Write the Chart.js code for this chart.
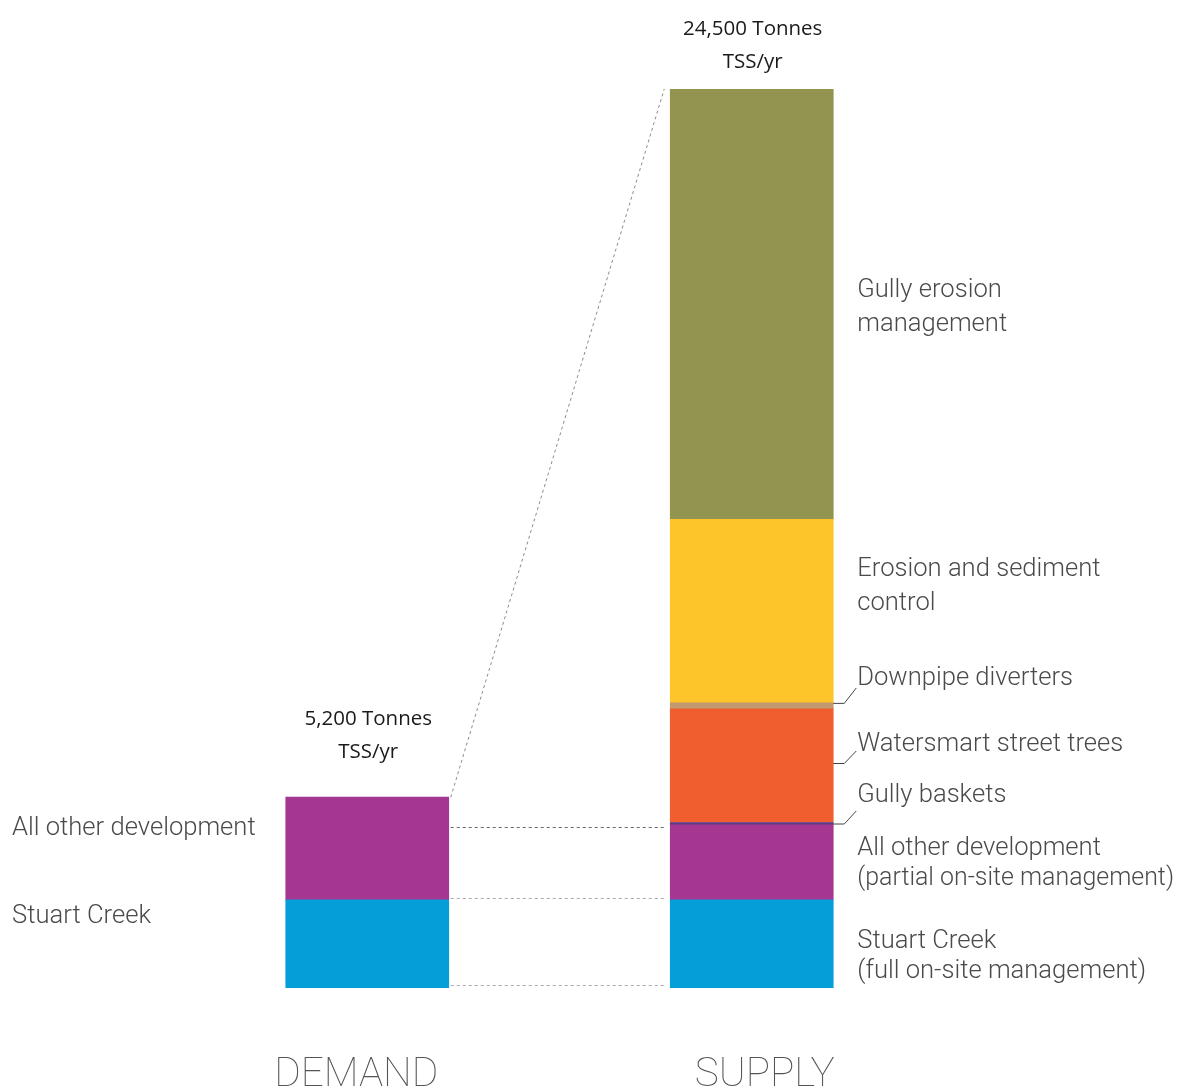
<!DOCTYPE html>
<html>
<head>
<meta charset="utf-8">
<script src="https://cdn.jsdelivr.net/npm/chart.js@4/dist/chart.umd.min.js"></script>
<style>
  html, body { margin: 0; padding: 0; background: #ffffff; }
  #wrap { width: 1178px; height: 1088px; position: relative; }
</style>
</head>
<body>
<div id="wrap"><canvas id="c" width="1178" height="1088"></canvas></div>
<script>
// Sediment load (tonnes TSS per year): demand vs. supply
const categories = ['DEMAND', 'SUPPLY'];

const stuartCreek       = [2400, 2400];
const otherDevelopment  = [2800, 2050];
const gullyBaskets      = [null, 60];
const streetTrees       = [null, 3100];
const downpipeDiverters = [null, 160];
const erosionSediment   = [null, 5000];
const gullyErosion      = [null, 11730];

const totalLabels = ['5,200 Tonnes', '24,500 Tonnes'];
const totalUnit = 'TSS/yr';

const demandLabels = ['All other development', 'Stuart Creek'];
const supplyLabels = [
  ['Gully erosion', 'management'],
  ['Erosion and sediment', 'control'],
  ['Downpipe diverters'],
  ['Watersmart street trees'],
  ['Gully baskets'],
  ['All other development', '(partial on-site management)'],
  ['Stuart Creek', '(full on-site management)']
];

const series = [
  { label: 'Stuart Creek', data: stuartCreek, color: '#059ed8' },
  { label: 'All other development', data: otherDevelopment, color: '#a53792' },
  { label: 'Gully baskets', data: gullyBaskets, color: '#5a3a8c' },
  { label: 'Watersmart street trees', data: streetTrees, color: '#f05e2f' },
  { label: 'Downpipe diverters', data: downpipeDiverters, color: '#c39a70' },
  { label: 'Erosion and sediment control', data: erosionSediment, color: '#fdc52a' },
  { label: 'Gully erosion management', data: gullyErosion, color: '#93944f' }
];

const annotations = {
  id: 'annotations',
  afterDatasetsDraw(chart) {
    const ctx = chart.ctx;
    const y = chart.scales.y;
    const bar = (ds, i) => chart.getDatasetMeta(ds).data[i];

    const dRight = bar(0, 0).x + bar(0, 0).width / 2;
    const sLeft = bar(0, 1).x - bar(0, 1).width / 2;
    const sRight = bar(0, 1).x + bar(0, 1).width / 2;
    const demandTop = bar(1, 0).y;
    const supplyTop = bar(6, 1).y;

    // dotted connector lines between the two bars
    ctx.save();
    ctx.lineWidth = 1;
    ctx.setLineDash([3, 3]);
    ctx.strokeStyle = '#8a8a8a';
    ctx.beginPath();
    ctx.moveTo(dRight + 2, demandTop);
    ctx.lineTo(sLeft - 6, supplyTop);
    ctx.stroke();

    const levels = [
      { v: stuartCreek[1] + otherDevelopment[1], c: '#666666', dy: 2 },
      { v: stuartCreek[1], c: '#aaaaaa', dy: -2 },
      { v: 0, c: '#aaaaaa', dy: -3 }
    ];
    levels.forEach(l => {
      const py = Math.round(y.getPixelForValue(l.v) + l.dy) + 0.5;
      ctx.strokeStyle = l.c;
      ctx.beginPath();
      ctx.moveTo(dRight + 2, py);
      ctx.lineTo(sLeft - 6, py);
      ctx.stroke();
    });
    ctx.restore();

    // leader lines for the thin segments
    ctx.save();
    ctx.strokeStyle = '#444444';
    ctx.lineWidth = 1;
    const leaders = [
      [bar(4, 1).y + 0.5, 688],
      [763.5, 751],
      [bar(2, 1).y + 1.5, 811]
    ];
    leaders.forEach(([y0, y1]) => {
      ctx.beginPath();
      ctx.moveTo(sRight, y0);
      ctx.lineTo(sRight + 11, y0);
      ctx.lineTo(sRight + 23, y1);
      ctx.stroke();
    });
    ctx.restore();

    // totals above the bars
    ctx.save();
    ctx.fillStyle = '#1a1a1a';
    ctx.textAlign = 'center';
    ctx.textBaseline = 'alphabetic';
    ctx.font = '400 20.5px "Open Sans", sans-serif';
    const dCx = bar(0, 0).x + 1, sCx = bar(0, 1).x + 1;
    ctx.fillText(totalLabels[0], dCx, 725);
    ctx.fillText(totalUnit, dCx, 758);
    ctx.fillText(totalLabels[1], sCx, 35);
    ctx.fillText(totalUnit, sCx, 68);
    ctx.restore();

    // segment names
    ctx.save();
    ctx.fillStyle = '#4a4a4a';
    ctx.textAlign = 'left';
    ctx.font = '300 25.6px Roboto, sans-serif';
    ctx.fillText(demandLabels[0], 12, 835);
    ctx.fillText(demandLabels[1], 12, 923);

    const lx = sRight + 24;
    const maxW = chart.width - 4 - lx;
    const baselines = [[297, 331], [576, 610], [685], [751], [802], [855, 885], [948, 978]];
    supplyLabels.forEach((lines, i) => {
      lines.forEach((t, j) => ctx.fillText(t, lx, baselines[i][j], maxW));
    });
    ctx.restore();

    // category names under the bars
    ctx.save();
    ctx.fillStyle = '#555555';
    ctx.textAlign = 'center';
    ctx.font = '100 40.5px Roboto, sans-serif';
    const shifts = [-11, 13];
    categories.forEach((c, i) => {
      ctx.fillText(c, bar(0, i).x + shifts[i], 1086);
    });
    ctx.restore();
  }
};

new Chart(document.getElementById('c'), {
  type: 'bar',
  data: {
    labels: categories,
    datasets: series.map(s => ({
      label: s.label,
      data: s.data,
      backgroundColor: s.color,
      borderWidth: 0,
      barThickness: 163
    }))
  },
  options: {
    responsive: false,
    animation: false,
    events: [],
    layout: { padding: { left: 175, right: 234, top: 89, bottom: 100 } },
    plugins: { legend: { display: false }, tooltip: { enabled: false } },
    scales: {
      x: { stacked: true, display: false },
      y: { stacked: true, display: false, min: 0, max: 24500 }
    }
  },
  plugins: [annotations]
});
</script>
</body>
</html>
